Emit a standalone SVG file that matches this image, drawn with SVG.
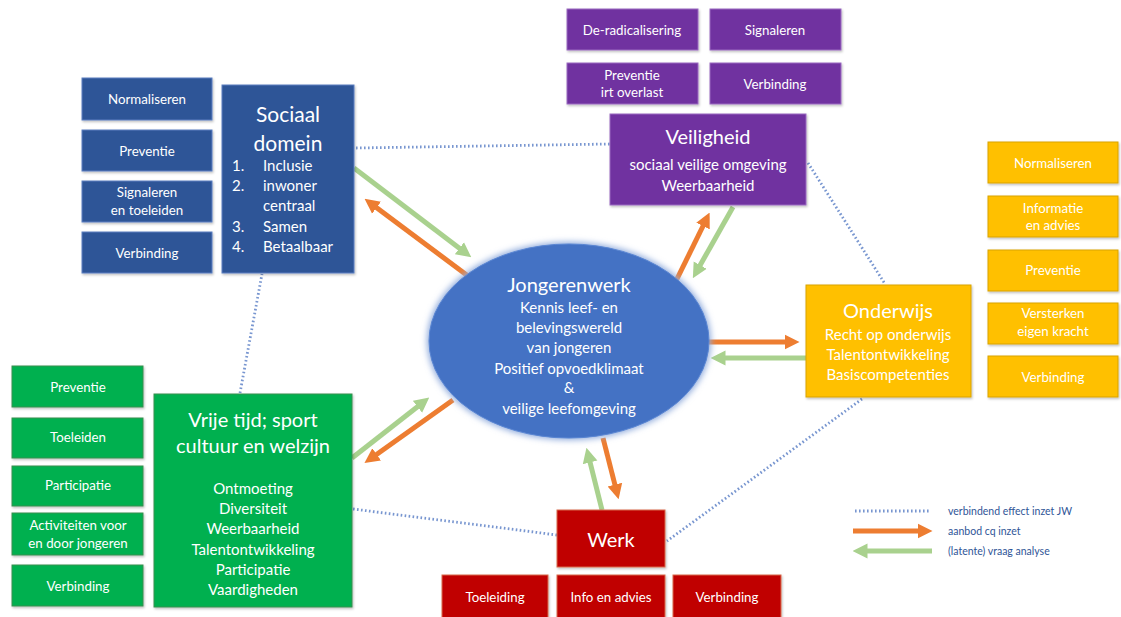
<svg xmlns="http://www.w3.org/2000/svg" width="1121" height="617" viewBox="0 0 1121 617">
<defs>
<style>
text{font-family:Lato,"Open Sans","Liberation Sans",sans-serif;text-anchor:middle;fill:#fff}
.s{font-size:13.3px}
.m{font-size:15px}
.t{font-size:20px}
.l{text-anchor:start}
.blue{fill:#2F5597;stroke:#5B7FC0;stroke-width:1}
.purple{fill:#7030A0;stroke:#9A6BC0;stroke-width:1}
.yellow{fill:#FFC000;stroke:#D9A300;stroke-width:1}
.green{fill:#00B050;stroke:#3A8F4E;stroke-width:1}
.red{fill:#C00000;stroke:#D86A4A;stroke-width:1}
.dot{fill:none;stroke:#7896D0;stroke-width:2.8;stroke-dasharray:1.6 2.4}
.or{stroke:#ED7D31;stroke-width:5;fill:none;marker-end:url(#ho)}
.gr{stroke:#A9D18E;stroke-width:5;fill:none;marker-end:url(#hg)}
.leg{font-size:10.5px;fill:#2F5597;text-anchor:start}
</style>
<marker id="ho" viewBox="0 0 10 10" markerWidth="3" markerHeight="3.2" refX="3" refY="5" orient="auto"><path d="M0,0 L10,5 L0,10 z" fill="#ED7D31"/></marker>
<marker id="hg" viewBox="0 0 10 10" markerWidth="3" markerHeight="3.2" refX="3" refY="5" orient="auto"><path d="M0,0 L10,5 L0,10 z" fill="#A9D18E"/></marker>
<filter id="sh" x="-10%" y="-10%" width="130%" height="130%"><feDropShadow dx="1" dy="1.5" stdDeviation="1.2" flood-color="#000" flood-opacity="0.25"/></filter>
<filter id="glow" x="-20%" y="-20%" width="140%" height="140%"><feGaussianBlur stdDeviation="3"/></filter>
</defs>
<rect width="1121" height="617" fill="#fff"/>

<g id="connectors">
<line class="dot" x1="356" y1="148" x2="610" y2="144"/>
<line class="dot" x1="808" y1="163" x2="885" y2="284"/>
<line class="dot" x1="862" y1="399" x2="667" y2="541"/>
<line class="dot" x1="557" y1="535" x2="353" y2="509"/>
<line class="dot" x1="240" y1="393" x2="262" y2="274"/>
<line class="gr" x1="354" y1="168" x2="463" y2="251"/>
<line class="or" x1="468" y1="276" x2="373" y2="205"/>
<line class="or" x1="675" y1="283" x2="705" y2="222"/>
<line class="gr" x1="733" y1="207" x2="698" y2="269"/>
<line class="or" x1="707" y1="342" x2="789" y2="342"/>
<line class="gr" x1="806" y1="358" x2="721" y2="358"/>
<line class="or" x1="603" y1="438" x2="616" y2="489"/>
<line class="gr" x1="602" y1="510" x2="589" y2="458"/>
<line class="gr" x1="352" y1="458" x2="421" y2="404"/>
<line class="or" x1="453" y1="400" x2="373" y2="457"/>
</g>

<g id="jongerenwerk">
<ellipse cx="569" cy="341" rx="142" ry="99" fill="#8FAADC" filter="url(#glow)"/>
<ellipse cx="569" cy="341" rx="140" ry="97" fill="#4472C4" stroke="#5A86D3" stroke-width="1"/>
<text class="t" x="569" y="292">Jongerenwerk</text>
<text class="m" x="569" y="313">Kennis leef- en</text>
<text class="m" x="569" y="333">belevingswereld</text>
<text class="m" x="569" y="353">van jongeren</text>
<text class="m" x="569" y="374">Positief opvoedklimaat</text>
<text class="m" x="569" y="393">&amp;</text>
<text class="m" x="569" y="414">veilige leefomgeving</text>
</g>

<g id="sociaal-domein">
<rect class="blue" x="222" y="85" width="132" height="188" filter="url(#sh)"/>
<text class="t" x="288" y="122" style="font-size:21px">Sociaal</text>
<text class="t" x="288" y="151" style="font-size:21px">domein</text>
<text class="m l" x="232" y="171">1.</text><text class="m l" x="263" y="171">Inclusie</text>
<text class="m l" x="232" y="191">2.</text><text class="m l" x="263" y="191">inwoner</text>
<text class="m l" x="263" y="211">centraal</text>
<text class="m l" x="232" y="232">3.</text><text class="m l" x="263" y="232">Samen</text>
<text class="m l" x="232" y="252">4.</text><text class="m l" x="263" y="252">Betaalbaar</text>
</g>
<g id="sd-normaliseren"><rect class="blue" x="82" y="78" width="130" height="42" filter="url(#sh)"/><text class="s" x="147" y="104">Normaliseren</text></g>
<g id="sd-preventie"><rect class="blue" x="82" y="130" width="130" height="41" filter="url(#sh)"/><text class="s" x="147" y="156">Preventie</text></g>
<g id="sd-signaleren"><rect class="blue" x="82" y="181" width="130" height="41" filter="url(#sh)"/><text class="s" x="147" y="197">Signaleren</text><text class="s" x="147" y="215">en toeleiden</text></g>
<g id="sd-verbinding"><rect class="blue" x="82" y="232" width="130" height="41" filter="url(#sh)"/><text class="s" x="147" y="258">Verbinding</text></g>

<g id="veiligheid">
<rect class="purple" x="610" y="114" width="196" height="91" filter="url(#sh)"/>
<text class="t" x="708" y="144">Veiligheid</text>
<text class="m" x="708" y="170">sociaal veilige omgeving</text>
<text class="m" x="708" y="191">Weerbaarheid</text>
</g>
<g id="v-deradicalisering"><rect class="purple" x="567" y="9" width="131" height="41" filter="url(#sh)"/><text class="s" x="632" y="35">De-radicalisering</text></g>
<g id="v-signaleren"><rect class="purple" x="710" y="9" width="131" height="41" filter="url(#sh)"/><text class="s" x="775" y="35">Signaleren</text></g>
<g id="v-preventie"><rect class="purple" x="567" y="63" width="131" height="41" filter="url(#sh)"/><text class="s" x="632" y="80">Preventie</text><text class="s" x="632" y="97">irt overlast</text></g>
<g id="v-verbinding"><rect class="purple" x="710" y="63" width="131" height="41" filter="url(#sh)"/><text class="s" x="775" y="89">Verbinding</text></g>

<g id="onderwijs">
<rect class="yellow" x="806" y="285" width="165" height="112" filter="url(#sh)"/>
<text class="t" x="888" y="318">Onderwijs</text>
<text class="m" x="888" y="340">Recht op onderwijs</text>
<text class="m" x="888" y="360">Talentontwikkeling</text>
<text class="m" x="888" y="380">Basiscompetenties</text>
</g>
<g id="o-normaliseren"><rect class="yellow" x="988" y="142" width="130" height="41" filter="url(#sh)"/><text class="s" x="1053" y="168">Normaliseren</text></g>
<g id="o-informatie"><rect class="yellow" x="988" y="196" width="130" height="41" filter="url(#sh)"/><text class="s" x="1053" y="213">Informatie</text><text class="s" x="1053" y="230">en advies</text></g>
<g id="o-preventie"><rect class="yellow" x="988" y="250" width="130" height="41" filter="url(#sh)"/><text class="s" x="1053" y="275">Preventie</text></g>
<g id="o-versterken"><rect class="yellow" x="988" y="303" width="130" height="41" filter="url(#sh)"/><text class="s" x="1053" y="318">Versterken</text><text class="s" x="1053" y="336">eigen kracht</text></g>
<g id="o-verbinding"><rect class="yellow" x="988" y="356" width="130" height="41" filter="url(#sh)"/><text class="s" x="1053" y="382">Verbinding</text></g>

<g id="vrije-tijd">
<rect class="green" x="154" y="394" width="198" height="213" filter="url(#sh)"/>
<text class="t" x="253" y="427">Vrije tijd; sport</text>
<text class="t" x="253" y="453">cultuur en welzijn</text>
<text class="m" x="253" y="494">Ontmoeting</text>
<text class="m" x="253" y="514">Diversiteit</text>
<text class="m" x="253" y="534">Weerbaarheid</text>
<text class="m" x="253" y="555">Talentontwikkeling</text>
<text class="m" x="253" y="575">Participatie</text>
<text class="m" x="253" y="595">Vaardigheden</text>
</g>
<g id="vt-preventie"><rect class="green" x="12" y="366" width="131" height="41" filter="url(#sh)"/><text class="s" x="78" y="392">Preventie</text></g>
<g id="vt-toeleiden"><rect class="green" x="12" y="418" width="131" height="40" filter="url(#sh)"/><text class="s" x="78" y="442">Toeleiden</text></g>
<g id="vt-participatie"><rect class="green" x="12" y="466" width="131" height="40" filter="url(#sh)"/><text class="s" x="78" y="490">Participatie</text></g>
<g id="vt-activiteiten"><rect class="green" x="12" y="513" width="131" height="42" filter="url(#sh)"/><text class="s" x="78" y="530">Activiteiten voor</text><text class="s" x="78" y="548">en door jongeren</text></g>
<g id="vt-verbinding"><rect class="green" x="12" y="565" width="131" height="41" filter="url(#sh)"/><text class="s" x="78" y="591">Verbinding</text></g>

<g id="werk">
<rect class="red" x="557" y="510" width="108" height="57" filter="url(#sh)"/>
<text class="t" x="611" y="547">Werk</text>
</g>
<g id="w-toeleiding"><rect class="red" x="442" y="575" width="106" height="44" filter="url(#sh)"/><text class="s" x="495" y="602">Toeleiding</text></g>
<g id="w-info"><rect class="red" x="557" y="575" width="108" height="44" filter="url(#sh)"/><text class="s" x="611" y="602">Info en advies</text></g>
<g id="w-verbinding"><rect class="red" x="673" y="575" width="108" height="44" filter="url(#sh)"/><text class="s" x="727" y="602">Verbinding</text></g>

<g id="legend">
<line class="dot" x1="855" y1="511" x2="930" y2="511"/>
<line class="or" x1="853" y1="531" x2="922" y2="531"/>
<line class="gr" x1="932" y1="551" x2="863" y2="551"/>
<text class="leg" x="948" y="515">verbindend effect inzet JW</text>
<text class="leg" x="948" y="535">aanbod cq inzet</text>
<text class="leg" x="948" y="555">(latente) vraag analyse</text>
</g>
</svg>
